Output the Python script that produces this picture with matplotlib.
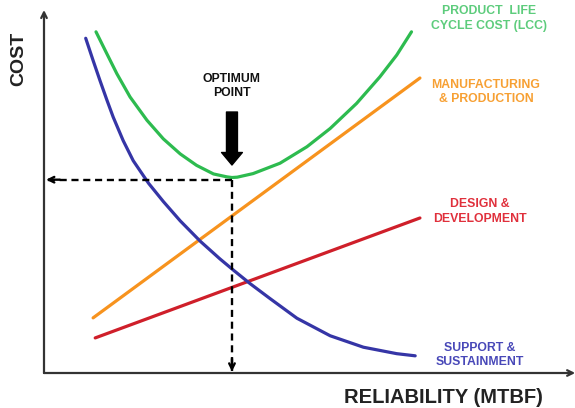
import matplotlib.pyplot as plt
import numpy as np

plt.rcParams['font.family'] = ['Liberation Sans', 'DejaVu Sans']

# curves (reliability on x, cost on y, 0-100 units)
lcc_x = [9.85, 11.9, 13.8, 16.3, 19.5, 22.6, 25.8, 28.9, 32.1, 34.6, 35.6, 36.6, 39.6, 44.7, 49.8, 54.2, 59.2, 63.6, 66.8, 69.6]
lcc_y = [95.3, 89.2, 83.6, 77.1, 70.6, 65.4, 61.2, 58.0, 55.6, 54.8, 54.6, 54.7, 55.7, 58.6, 63.2, 68.3, 75.3, 82.7, 88.8, 95.3]

sup_x = [7.9, 9.3, 10.6, 11.9, 13.1, 15.0, 16.9, 19.8, 22.6, 25.8, 29.6, 33.3, 35.9, 39.0, 42.8, 47.9, 54.2, 60.5, 66.8, 70.3]
sup_y = [93.5, 87.3, 81.7, 76.3, 71.5, 64.9, 59.3, 53.0, 47.9, 42.5, 36.8, 31.9, 28.7, 25.0, 20.8, 15.3, 10.4, 7.2, 5.4, 4.8]

mfg_x = [9.3, 71.2]
mfg_y = [15.4, 82.4]

dev_x = [9.7, 71.2]
dev_y = [9.8, 43.3]

labels = ['PRODUCT  LIFE\nCYCLE COST (LCC)', 'MANUFACTURING\n& PRODUCTION',
          'DESIGN &\nDEVELOPMENT', 'SUPPORT &\nSUSTAINMENT']

fig = plt.figure(figsize=(5.75, 4.08), dpi=100)
ax = fig.add_axes([44 / 575, 35 / 408, 528 / 575, 358 / 408])
ax.set_xlim(0, 100)
ax.set_ylim(0, 100)
ax.axis('off')

# axes with arrow heads
ax.annotate('', xy=(100.6, 0), xytext=(0, 0),
            arrowprops=dict(arrowstyle='->', lw=1.6, color='#333333', shrinkA=0, shrinkB=0),
            annotation_clip=False)
ax.annotate('', xy=(0, 101.4), xytext=(0, 0),
            arrowprops=dict(arrowstyle='->', lw=1.6, color='#333333', shrinkA=0, shrinkB=0),
            annotation_clip=False)

# curves
ax.plot(mfg_x, mfg_y, color='#f7931e', lw=2.3, solid_capstyle='round')
ax.plot(dev_x, dev_y, color='#cf1f2a', lw=2.3, solid_capstyle='round')
ax.plot(sup_x, sup_y, color='#3535a6', lw=2.3, solid_capstyle='round', solid_joinstyle='round')
ax.plot(lcc_x, lcc_y, color='#2dbb4f', lw=2.3, solid_capstyle='round', solid_joinstyle='round')

# optimum point
i = int(np.argmin(lcc_y))
opt_x, opt_y = lcc_x[i], lcc_y[i] - 0.6
ax.plot([opt_x, 0.6], [opt_y, opt_y], color='black', lw=1.7, linestyle=(0, (3, 2)))
ax.plot([opt_x, opt_x], [opt_y, 0.6], color='black', lw=1.7, linestyle=(0, (3, 2)))
ax.annotate('', xy=(0.4, opt_y), xytext=(3, opt_y),
            arrowprops=dict(arrowstyle='->', lw=1.7, color='black', shrinkA=0, shrinkB=0))
ax.annotate('', xy=(opt_x, 0.4), xytext=(opt_x, 4),
            arrowprops=dict(arrowstyle='->', lw=1.7, color='black', shrinkA=0, shrinkB=0))

ax.annotate('', xy=(opt_x, 58.1), xytext=(opt_x, 72.9),
            arrowprops=dict(width=7.9, headwidth=15, headlength=9, shrink=0, color='black'))
ax.text(opt_x, 80.2, 'OPTIMUM\nPOINT', ha='center', va='center', fontsize=8.8,
        fontweight='bold', color='#111111', linespacing=1.25)

# series labels
ax.text(84.3, 99.0, labels[0], ha='center', va='center', fontsize=8.8, fontweight='bold',
        color='#5dcc7c', linespacing=1.25, clip_on=False)
ax.text(83.7, 78.5, labels[1], ha='center', va='center', fontsize=8.8, fontweight='bold',
        color='#f7a033', linespacing=1.25, clip_on=False)
ax.text(82.6, 45.1, labels[2], ha='center', va='center', fontsize=8.8, fontweight='bold',
        color='#e0303c', linespacing=1.25, clip_on=False)
ax.text(82.6, 5.0, labels[3], ha='center', va='center', fontsize=8.8, fontweight='bold',
        color='#4848b8', linespacing=1.25, clip_on=False)

# axis titles
ax.text(-4.7, 87.7, 'COST', rotation=90, ha='center', va='center', fontsize=14,
        fontweight='bold', color='#222222', clip_on=False)
ax.text(75.6, -6.8, 'RELIABILITY (MTBF)', ha='center', va='center', fontsize=14.5,
        fontweight='bold', color='#222222', clip_on=False)

fig.savefig('out.png', dpi=100)
